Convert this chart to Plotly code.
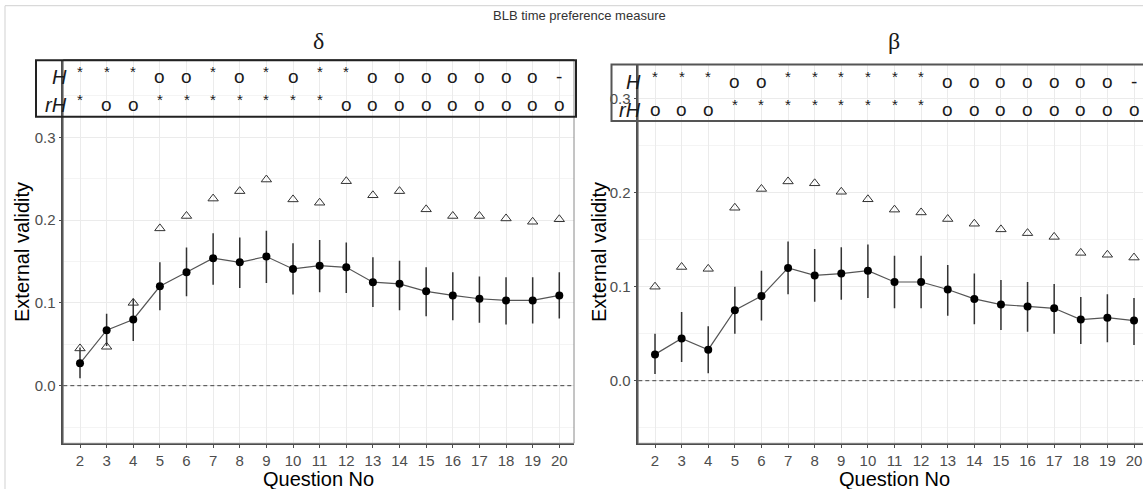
import plotly.graph_objects as go

# ---------------- data ----------------
questions = list(range(2, 21))

delta_est = [0.027, 0.067, 0.080, 0.120, 0.137, 0.154, 0.149, 0.156, 0.141, 0.145,
             0.143, 0.125, 0.123, 0.114, 0.109, 0.105, 0.103, 0.103, 0.109]
delta_low = [0.009, 0.048, 0.054, 0.091, 0.108, 0.122, 0.118, 0.124, 0.110, 0.113,
             0.112, 0.095, 0.091, 0.084, 0.079, 0.076, 0.074, 0.075, 0.081]
delta_high = [0.046, 0.087, 0.105, 0.149, 0.167, 0.184, 0.179, 0.187, 0.172, 0.176,
              0.173, 0.155, 0.151, 0.143, 0.137, 0.132, 0.131, 0.131, 0.137]
delta_tri = [0.045, 0.047, 0.100, 0.190, 0.205, 0.226, 0.235, 0.249, 0.225, 0.221,
             0.247, 0.230, 0.235, 0.213, 0.205, 0.205, 0.202, 0.198, 0.201]

beta_est = [0.028, 0.045, 0.033, 0.075, 0.090, 0.120, 0.112, 0.114, 0.117, 0.105,
            0.105, 0.097, 0.087, 0.081, 0.079, 0.077, 0.065, 0.067, 0.064]
beta_low = [0.007, 0.020, 0.008, 0.050, 0.064, 0.092, 0.084, 0.086, 0.088, 0.077,
            0.077, 0.069, 0.060, 0.054, 0.052, 0.050, 0.039, 0.041, 0.038]
beta_high = [0.050, 0.073, 0.058, 0.100, 0.117, 0.148, 0.140, 0.142, 0.145, 0.133,
             0.133, 0.123, 0.114, 0.107, 0.105, 0.103, 0.089, 0.092, 0.088]
beta_tri = [0.100, 0.121, 0.119, 0.184, 0.204, 0.212, 0.210, 0.201, 0.193, 0.182,
            0.179, 0.172, 0.167, 0.161, 0.157, 0.153, 0.136, 0.134, 0.131]

delta_H = ["*", "*", "*", "o", "o", "*", "o", "*", "o", "*", "*", "o", "o", "o", "o", "o", "o", "o", "-"]
delta_rH = ["*", "o", "o", "*", "*", "*", "*", "*", "*", "*", "o", "o", "o", "o", "o", "o", "o", "o", "o"]
beta_H = ["*", "*", "*", "o", "o", "*", "*", "*", "*", "*", "*", "o", "o", "o", "o", "o", "o", "o", "-"]
beta_rH = ["o", "o", "o", "*", "*", "*", "*", "*", "*", "*", "*", "o", "o", "o", "o", "o", "o", "o", "o"]

y_ticks = [0.0, 0.1, 0.2, 0.3]
x_ticks = questions
title_text = "BLB time preference measure"
panel_titles = ["δ", "β"]

# ---------------- layout helpers ----------------
W, H = 1143, 489


def px(x):
    return x / W


def py(y):
    return 1 - y / H


SANS = "Liberation Sans, Arial, sans-serif"
SERIF = "Liberation Serif, Times New Roman, serif"

fig = go.Figure()

panels = [
    dict(est=delta_est, low=delta_low, high=delta_high, tri=delta_tri,
         rowH=delta_H, rowrH=delta_rH, xa="x", ya="y"),
    dict(est=beta_est, low=beta_low, high=beta_high, tri=beta_tri,
         rowH=beta_H, rowrH=beta_rH, xa="x2", ya="y2"),
]

for p in panels:
    plus = [h - e for h, e in zip(p["high"], p["est"])]
    minus = [e - l for e, l in zip(p["est"], p["low"])]
    fig.add_trace(go.Scatter(
        x=questions, y=p["tri"], mode="markers", xaxis=p["xa"], yaxis=p["ya"],
        marker=dict(symbol="triangle-up-open", size=9, color="#333333",
                    line=dict(color="#333333", width=1)),
        showlegend=False, hoverinfo="skip"))
    fig.add_trace(go.Scatter(
        x=questions, y=p["est"], mode="lines+markers", xaxis=p["xa"], yaxis=p["ya"],
        line=dict(color="#555555", width=1.2),
        marker=dict(symbol="circle", size=8, color="black"),
        error_y=dict(type="data", array=plus, arrayminus=minus, symmetric=False,
                     width=0, thickness=1.5, color="#333333"),
        showlegend=False))

axis_common = dict(
    showgrid=True, gridcolor="#ebebeb", gridwidth=1,
    zeroline=False, showline=True, linecolor="#4d4d4d", linewidth=1.5,
    ticks="outside", ticklen=3, tickcolor="#4d4d4d",
    tickfont=dict(family=SANS, size=15, color="#4d4d4d"),
)

fig.update_layout(
    width=W, height=H, margin=dict(l=0, r=0, t=0, b=0),
    paper_bgcolor="white", plot_bgcolor="white",
    xaxis=dict(domain=[px(63.3), px(574)], range=[1.373, 20.552],
               tickvals=x_ticks, **axis_common),
    yaxis=dict(domain=[py(443.3), py(59.5)], range=[-0.0696, 0.394],
               tickvals=y_ticks, tickformat=".1f",
               minor=dict(dtick=0.05, tick0=0, showgrid=True, gridcolor="#f4f4f4", gridwidth=0.8),
               **axis_common),
    xaxis2=dict(domain=[px(638.3), 1.0], range=[1.372, 20.338],
                tickvals=x_ticks, anchor="y2", **axis_common),
    yaxis2=dict(domain=[py(443.3), py(64.5)], range=[-0.0666, 0.3364],
                tickvals=y_ticks, tickformat=".1f", anchor="x2",
                minor=dict(dtick=0.05, tick0=0, showgrid=True, gridcolor="#f4f4f4", gridwidth=0.8),
                **axis_common),
)

shapes = []
# outer faint frame
shapes.append(dict(type="line", xref="paper", yref="paper", x0=px(5), x1=1.01, y0=py(5.7), y1=py(5.7),
                   line=dict(color="#d9d9d9", width=1.2)))
shapes.append(dict(type="line", xref="paper", yref="paper", x0=px(5), x1=px(5), y0=py(5.7), y1=-0.01,
                   line=dict(color="#d9d9d9", width=1.2)))
# panel borders
shapes.append(dict(type="rect", xref="paper", yref="paper", x0=px(63.3), x1=px(574),
                   y0=py(443.3), y1=py(59.5), line=dict(color="#8a8a8a", width=1)))
shapes.append(dict(type="rect", xref="paper", yref="paper", x0=px(638.3), x1=1.02,
                   y0=py(443.3), y1=py(64.5), line=dict(color="#8a8a8a", width=1)))
# zero dashed lines
shapes.append(dict(type="line", xref="x domain", yref="y", x0=0, x1=1, y0=0, y1=0,
                   line=dict(color="#444444", width=1, dash="4px,3px")))
shapes.append(dict(type="line", xref="x2 domain", yref="y2", x0=0, x1=1, y0=0, y1=0,
                   line=dict(color="#444444", width=1, dash="4px,3px")))
# significance tables boxes
shapes.append(dict(type="rect", xref="paper", yref="paper", x0=px(36), x1=px(576),
                   y0=py(116.7), y1=py(60.3), line=dict(color="#222222", width=2)))
shapes.append(dict(type="rect", xref="paper", yref="paper", x0=px(611.5), x1=1.02,
                   y0=py(121), y1=py(64.5), line=dict(color="#555555", width=2)))

annotations = []
annotations.append(dict(text=title_text, xref="paper", yref="paper", x=px(579), y=py(16),
                        xanchor="center", yanchor="middle", showarrow=False,
                        font=dict(family=SANS, size=13, color="#333333")))
for t, cx in zip(panel_titles, [318, 894]):
    annotations.append(dict(text=t, xref="paper", yref="paper", x=px(cx), y=py(41),
                            xanchor="center", yanchor="middle", showarrow=False,
                            font=dict(family=SERIF, size=24, color="#1a1a1a")))
for cx in [22, 599]:
    annotations.append(dict(text="External validity", xref="paper", yref="paper", x=px(cx), y=py(252),
                            xanchor="center", yanchor="middle", showarrow=False, textangle=-90,
                            font=dict(family=SANS, size=20, color="black")))
for cx in [318, 894]:
    annotations.append(dict(text="Question No", xref="paper", yref="paper", x=px(cx), y=py(479),
                            xanchor="center", yanchor="middle", showarrow=False,
                            font=dict(family=SANS, size=20, color="black")))

rows = [
    (panels[0], 69, 76.7, 105.0),
    (panels[1], 643, 81.7, 110.0),
]
for p, lab_x, yH, yrH in rows:
    for lab, yy in (("H", yH), ("rH", yrH)):
        annotations.append(dict(text="<i>" + lab + "</i>", xref="paper", yref="paper",
                                x=px(lab_x), y=py(yy), xanchor="right", yanchor="middle",
                                showarrow=False,
                                font=dict(family=SANS, size=20, color="#1a1a1a")))
    for row, yy in ((p["rowH"], yH), (p["rowrH"], yrH)):
        for q, s in zip(questions, row):
            annotations.append(dict(text=s, xref=p["xa"], yref="paper", x=q, y=py(yy),
                                    xanchor="center", yanchor="middle", showarrow=False,
                                    font=dict(family=SANS, size=19 if s != "*" else 15,
                                              color="#1a1a1a"),
                                    yshift=5 if s == "*" else 0))

fig.update_layout(shapes=shapes, annotations=annotations)
fig.write_html("out.html", config={"displayModeBar": False},
               post_script="document.body.style.margin='0px';document.body.style.overflow='hidden';")
